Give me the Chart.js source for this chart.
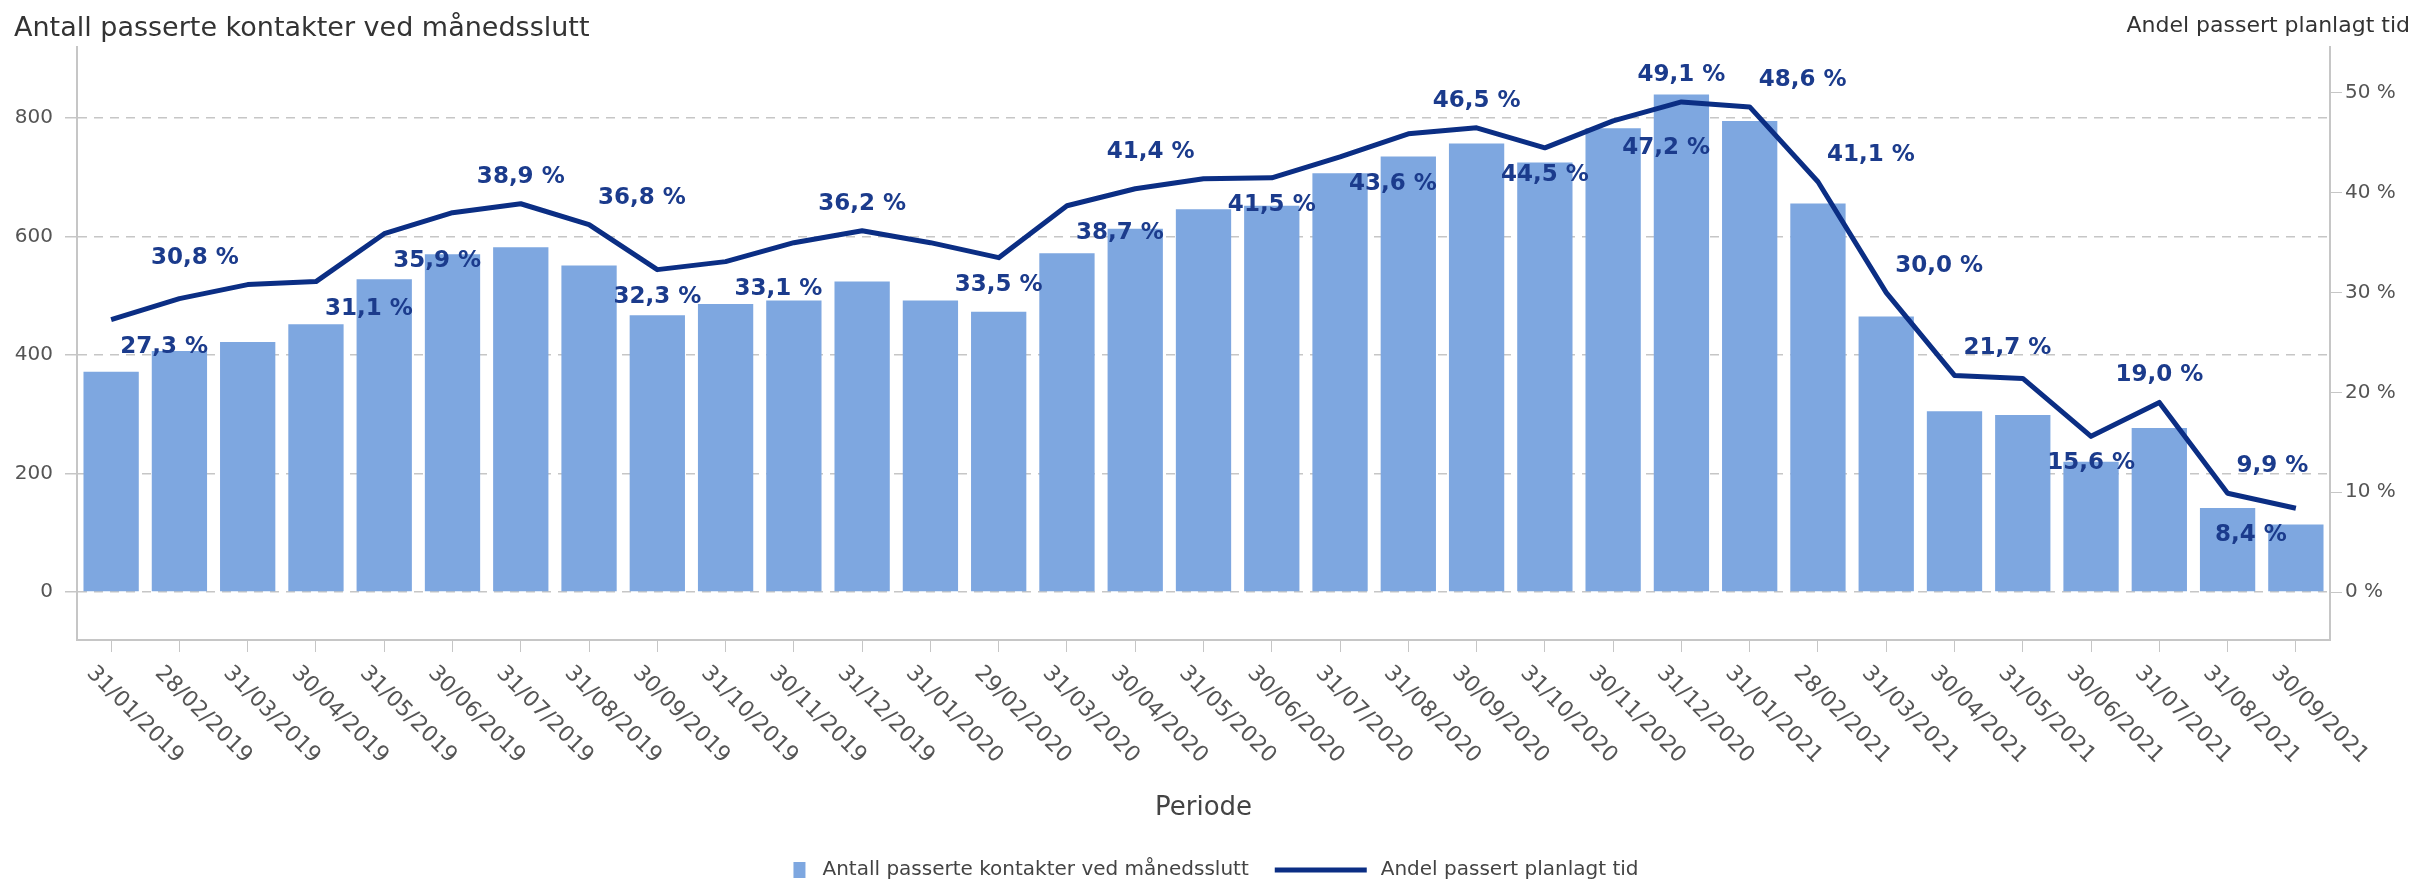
<!DOCTYPE html>
<html>
<head>
<meta charset="utf-8">
<title>Passerte kontakter</title>
<script src="https://cdn.jsdelivr.net/npm/chart.js@4.4.0/dist/chart.umd.min.js"></script>
<style>
  html, body { margin: 0; padding: 0; background: #fff; }
</style>
</head>
<body>
<canvas id="kontakterChart" width="2414" height="882"></canvas>
<script>
// data
var periods = [
  '31/01/2019', '28/02/2019', '31/03/2019', '30/04/2019', '31/05/2019', '30/06/2019',
  '31/07/2019', '31/08/2019', '30/09/2019', '31/10/2019', '30/11/2019', '31/12/2019',
  '31/01/2020', '29/02/2020', '31/03/2020', '30/04/2020', '31/05/2020', '30/06/2020',
  '31/07/2020', '31/08/2020', '30/09/2020', '31/10/2020', '30/11/2020', '31/12/2020',
  '31/01/2021', '28/02/2021', '31/03/2021', '30/04/2021', '31/05/2021', '30/06/2021',
  '31/07/2021', '31/08/2021', '30/09/2021'
];
var contacts = [
  372, 407, 422, 452, 528, 570, 582, 551, 467, 486, 492, 524,
  492, 473, 572, 613, 646, 652, 707, 735, 757, 725, 783, 840,
  795, 656, 465, 305, 299, 220, 277, 142, 114
];
var sharePassed = [
  27.3, 29.4, 30.8, 31.1, 35.9, 38.0, 38.9, 36.8, 32.3, 33.1, 35.0, 36.2,
  35.0, 33.5, 38.7, 40.4, 41.4, 41.5, 43.6, 45.9, 46.5, 44.5, 47.2, 49.1,
  48.6, 41.1, 30.0, 21.7, 21.4, 15.6, 19.0, 9.9, 8.4
];
// where each value label sits next to its point ('' = not shown)
var labelSpot = [
  'rb', '', 'la', 'rb', 'rb', '', 'a', 'ra', 'b', 'rb', '', 'a',
  '', 'b', 'rb', '', 'la', 'b', 'rb', '', 'a', 'b', 'rb', 'a',
  'ra', 'ra', 'ra', 'ra', '', 'b', 'a', 'ra', 'lb'
];
var leftTicks = [0, 200, 400, 600, 800];
var rightTicks = [0, 10, 20, 30, 40, 50];

var barName = 'Antall passerte kontakter ved månedsslutt';
var lineName = 'Andel passert planlagt tid';

var FONT = '"DejaVu Sans", sans-serif';
var barColor = '#7ea7e0';
var lineColor = '#0b2e84';
var gridColor = '#c6c6c6';

function pct(v) {
  return v.toFixed(1).replace('.', ',') + ' %';
}

var extraText = {
  id: 'extraText',
  afterDatasetsDraw: function(chart) {
    var ctx = chart.ctx;
    var meta = chart.getDatasetMeta(0); // the line
    ctx.save();
    ctx.font = 'bold 23px ' + FONT;
    ctx.fillStyle = '#1b3b8c';
    ctx.textBaseline = 'middle';
    meta.data.forEach(function(pt, i) {
      var spot = labelSpot[i];
      if (!spot) return;
      var x = pt.x;
      var y = pt.y + (spot.indexOf('a') >= 0 ? -27 : 27);
      if (spot.charAt(0) === 'r') { ctx.textAlign = 'left'; x += 9; }
      else if (spot.charAt(0) === 'l') { ctx.textAlign = 'right'; x -= 9; }
      else { ctx.textAlign = 'center'; }
      ctx.fillText(pct(sharePassed[i]), x, y);
    });
    ctx.restore();
  },
  afterDraw: function(chart) {
    var ctx = chart.ctx;
    var xScale = chart.scales.x;
    ctx.save();

    // axis titles on top
    ctx.fillStyle = '#333';
    ctx.textBaseline = 'alphabetic';
    ctx.font = '27px ' + FONT;
    ctx.textAlign = 'left';
    ctx.fillText(barName, 14, 36);
    ctx.font = '22px ' + FONT;
    ctx.textAlign = 'right';
    ctx.fillText(lineName, 2410, 32);

    // slanted period labels
    ctx.font = '22px ' + FONT;
    ctx.fillStyle = '#555';
    ctx.textAlign = 'left';
    ctx.textBaseline = 'middle';
    periods.forEach(function(p, i) {
      var x = xScale.getPixelForValue(i);
      ctx.save();
      ctx.translate(x - 21, 670);
      ctx.rotate(Math.PI / 4);
      ctx.fillText(p, 0, 0);
      ctx.restore();
    });

    // legend
    ctx.font = '20px ' + FONT;
    var w1 = ctx.measureText(barName).width;
    var w2 = ctx.measureText(lineName).width;
    var total = 12 + 17 + w1 + 26 + 92 + 14 + w2;
    var x0 = 1216 - total / 2;
    var ly = 870;
    ctx.fillStyle = barColor;
    ctx.fillRect(x0, ly - 8, 12, 16);
    ctx.fillStyle = '#444';
    ctx.fillText(barName, x0 + 29, ly);
    var lx = x0 + 29 + w1 + 26;
    ctx.strokeStyle = lineColor;
    ctx.lineWidth = 5;
    ctx.beginPath();
    ctx.moveTo(lx, ly);
    ctx.lineTo(lx + 92, ly);
    ctx.stroke();
    ctx.fillText(lineName, lx + 92 + 14, ly);

    ctx.restore();
  }
};

var ctxEl = document.getElementById('kontakterChart');

var kontakterChart = new Chart(ctxEl, {
  type: 'bar',
  data: {
    labels: periods,
    datasets: [
      {
        type: 'line',
        label: lineName,
        data: sharePassed,
        yAxisID: 'y1',
        borderColor: lineColor,
        backgroundColor: lineColor,
        borderWidth: 5,
        pointRadius: 0,
        tension: 0,
        borderJoinStyle: 'round',
        order: 0
      },
      {
        type: 'bar',
        label: barName,
        data: contacts,
        yAxisID: 'y',
        backgroundColor: barColor,
        categoryPercentage: 1.0,
        barPercentage: 0.81,
        order: 1
      }
    ]
  },
  options: {
    responsive: false,
    animation: false,
    layout: { padding: { top: 47, left: 0, right: 0, bottom: 0 } },
    plugins: {
      legend: { display: false },
      tooltip: { enabled: false }
    },
    scales: {
      x: {
        offset: true,
        grid: { drawOnChartArea: false, offset: false, tickLength: 12, color: gridColor },
        border: { display: true, color: gridColor, width: 2 },
        ticks: { display: false },
        title: {
          display: true,
          text: 'Periode',
          color: '#444',
          font: { family: FONT, size: 26 },
          padding: { top: 0, bottom: 58 }
        },
        afterFit: function(s) { s.height = 242; }
      },
      y: {
        position: 'left',
        min: -81,
        max: 920,
        afterBuildTicks: function(s) {
          s.ticks = leftTicks.map(function(v) { return { value: v }; });
        },
        afterFit: function(s) { s.width = 77; },
        grid: { color: gridColor, tickLength: 12, lineWidth: 1.5 },
        border: { display: true, color: gridColor, width: 2, dash: [9, 7] },
        ticks: { color: '#555', padding: 12, font: { family: FONT, size: 20 } }
      },
      y1: {
        position: 'right',
        min: -4.8,
        max: 54.6,
        afterBuildTicks: function(s) {
          s.ticks = rightTicks.map(function(v) { return { value: v }; });
        },
        afterFit: function(s) { s.width = 84; },
        grid: { drawOnChartArea: false, color: gridColor, tickLength: 12 },
        border: { display: true, color: gridColor, width: 2 },
        ticks: {
          color: '#555',
          padding: 3,
          font: { family: FONT, size: 20 },
          callback: function(v) { return v + ' %'; }
        }
      }
    }
  },
  plugins: [extraText]
});
</script>
</body>
</html>
